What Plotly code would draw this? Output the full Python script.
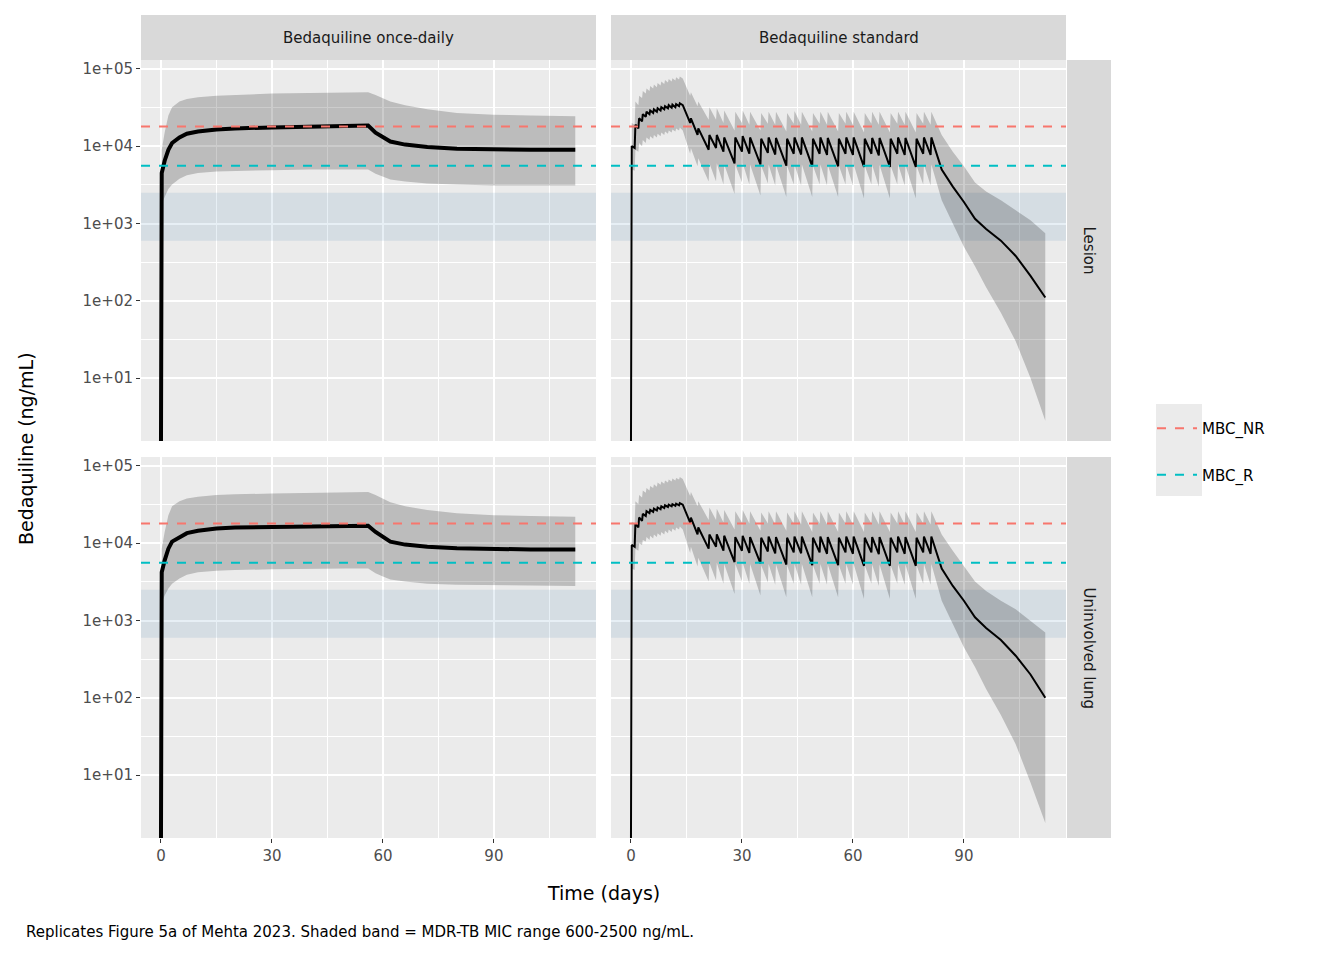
import plotly.graph_objects as go

# --- Data ---
MBC_NR = 18000
MBC_R = 5600
MIC_LOW, MIC_HIGH = 600, 2500

# once-daily regimen
od_t = [0, 0.2, 1, 2, 3, 5, 7, 10, 15, 20, 30, 40, 50, 56, 58, 60, 62, 66, 72, 80, 90, 100, 112]
od_les_med = [1.5, 4500, 6500, 9000, 11000, 13000, 14500, 15500, 16500, 17000, 17500, 18000, 18200, 18500,
              15000, 13000, 11500, 10500, 9800, 9300, 9100, 9000, 9000]
od_les_hi = [1.5, 9000, 15000, 25000, 32000, 38000, 41000, 43000, 45000, 46000, 48000, 49000, 50000, 50000,
             46000, 42000, 38000, 34000, 30000, 27000, 25500, 25000, 24500]
od_les_lo = [1.5, 1800, 2200, 2800, 3200, 3800, 4200, 4500, 4700, 4800, 4900, 5000, 5000, 5000,
             4400, 4000, 3700, 3500, 3300, 3200, 3100, 3100, 3100]
od_lung_med = [1.5, 4200, 6000, 8500, 10500, 12000, 13500, 14500, 15500, 16000, 16300, 16500, 16700, 16800,
               14000, 12000, 10500, 9600, 9000, 8600, 8400, 8300, 8300]
od_lung_hi = [1.5, 8500, 14000, 23000, 30000, 35000, 38000, 40000, 42000, 43000, 44000, 45000, 45500, 46000,
              42000, 38000, 34000, 30000, 27000, 24500, 23000, 22500, 22000]
od_lung_lo = [1.5, 1700, 2100, 2600, 3000, 3500, 3900, 4200, 4400, 4500, 4600, 4700, 4700, 4700,
              4100, 3700, 3400, 3200, 3000, 2900, 2850, 2800, 2800]

# standard regimen (2 weeks daily, then three times weekly)
std_t = [0, 0.2, 1, 1.2, 2, 2.2, 3, 3.2, 4, 4.2, 5, 5.2, 6, 6.2, 7, 7.2, 8, 8.2, 9, 9.2, 10, 10.2,
         11, 11.2, 12, 12.2, 13, 13.2, 14, 16, 16.2, 18, 18.2, 21, 21.2, 23, 23.2, 25, 25.2,
         28, 28.2, 30, 30.2, 32, 32.2, 35, 35.2, 37, 37.2, 39, 39.2, 42, 42.2, 44, 44.2, 46, 46.2,
         49, 49.2, 51, 51.2, 53, 53.2, 56, 56.2, 58, 58.2, 60, 60.2, 63, 63.2, 65, 65.2, 67, 67.2,
         70, 70.2, 72, 72.2, 74, 74.2, 77, 77.2, 79, 79.2, 81, 81.2,
         84, 87, 90, 93, 96, 100, 104, 108, 112]
std_les_med = [1.5, 10000, 9500, 19000, 17000, 23000, 21000, 26000, 24000, 28000, 26000, 29000, 27000, 30000,
               28000, 31000, 29000, 32000, 30000, 33000, 31000, 34000, 31500, 34500, 32000, 35000, 33000, 36000, 34000,
               20000, 23000, 14000, 17000, 9000, 14000, 9500, 14000, 8500, 13000,
               6000, 13000, 8500, 13500, 8000, 13000,
               5800, 12500, 8200, 13000, 7800, 12800,
               5600, 12500, 8000, 13000, 7800, 13000,
               5500, 12500, 8000, 13000, 7700, 12800,
               5500, 12500, 8000, 13000, 7700, 13000,
               5400, 12500, 8000, 12800, 7600, 12800,
               5400, 12500, 8000, 13000, 7700, 12800,
               5400, 12500, 8000, 13000, 7700, 13000,
               5000, 3000, 1900, 1150, 850, 600, 380, 210, 110]
std_les_hi = [1.5, 20000, 19000, 38000, 34000, 45000, 42000, 52000, 48000, 56000, 52000, 60000, 56000, 63000,
              58000, 66000, 61000, 69000, 64000, 72000, 67000, 74000, 69000, 76000, 71000, 78000, 73000, 80000, 75000,
              45000, 50000, 33000, 38000, 22000, 32000, 22000, 31000, 20000, 29000,
              16000, 28000, 20000, 29000, 19000, 28000,
              16000, 27000, 19500, 28000, 19000, 28000,
              15500, 27000, 19500, 28500, 19000, 28000,
              15500, 27000, 19500, 28000, 19000, 28000,
              15500, 27000, 19500, 28000, 19000, 28000,
              15000, 27000, 19500, 28000, 19000, 28000,
              15000, 27000, 19500, 28000, 19000, 28000,
              15000, 27000, 19500, 28000, 19000, 28000,
              14000, 8500, 5500, 3400, 2600, 2000, 1500, 1100, 750]
std_les_lo = [1.5, 5000, 4800, 9000, 8500, 11000, 10000, 12000, 11000, 13000, 12000, 13500, 12500, 14000,
              13000, 14500, 13500, 15000, 14000, 15500, 14500, 16000, 15000, 16500, 15500, 17000, 16000, 17500, 16000,
              8000, 9500, 5500, 7000, 3500, 6000, 3500, 6000, 3200, 5800,
              2400, 5800, 3400, 6000, 3200, 5800,
              2300, 5600, 3300, 5800, 3100, 5700,
              2200, 5600, 3200, 5800, 3100, 5800,
              2200, 5600, 3200, 5800, 3100, 5700,
              2200, 5600, 3200, 5800, 3100, 5800,
              2100, 5600, 3200, 5700, 3000, 5700,
              2100, 5600, 3200, 5800, 3100, 5700,
              2100, 5600, 3200, 5800, 3100, 5800,
              2000, 1000, 500, 280, 150, 70, 30, 10, 2.8]
std_lung_med = [1.5, 9500, 9000, 18000, 16000, 21500, 19500, 24000, 22500, 26000, 24500, 27000, 25500, 28000,
                26500, 29000, 27500, 30000, 28500, 31000, 29500, 31500, 30000, 32000, 30500, 32500, 31000, 33000, 31500,
                18500, 21500, 13000, 16000, 8500, 13000, 9000, 13000, 8000, 12500,
                5700, 12000, 8000, 12500, 7500, 12000,
                5500, 11800, 7800, 12200, 7400, 12000,
                5300, 11800, 7600, 12200, 7400, 12200,
                5200, 11800, 7600, 12200, 7300, 12000,
                5200, 11800, 7600, 12200, 7300, 12200,
                5100, 11800, 7600, 12000, 7200, 12000,
                5100, 11800, 7600, 12200, 7300, 12000,
                5100, 11800, 7600, 12200, 7300, 12200,
                4700, 2800, 1800, 1100, 800, 560, 350, 200, 100]
std_lung_hi = [1.5, 19000, 18000, 35000, 32000, 42000, 39000, 48000, 45000, 52000, 48000, 55000, 52000, 58000,
               54000, 61000, 57000, 63000, 59000, 65000, 61000, 67000, 63000, 69000, 65000, 70000, 67000, 72000, 68000,
               41000, 46000, 30000, 35000, 20000, 29000, 20000, 28000, 18500, 27000,
               15000, 26000, 18500, 27000, 18000, 26000,
               14500, 25000, 18000, 26000, 17500, 26000,
               14500, 25000, 18000, 26000, 17500, 26000,
               14000, 25000, 18000, 26000, 17500, 26000,
               14000, 25000, 18000, 26000, 17500, 26000,
               14000, 25000, 18000, 26000, 17500, 26000,
               14000, 25000, 18000, 26000, 17500, 26000,
               14000, 25000, 18000, 26000, 17500, 26000,
               13000, 8000, 5000, 3200, 2400, 1800, 1400, 1000, 700]
std_lung_lo = [1.5, 4700, 4500, 8500, 8000, 10000, 9500, 11000, 10500, 12000, 11000, 12500, 11500, 13000,
               12000, 13500, 12500, 14000, 13000, 14500, 13500, 15000, 14000, 15500, 14500, 16000, 15000, 16500, 15000,
               7500, 9000, 5000, 6500, 3200, 5600, 3300, 5600, 3000, 5400,
               2200, 5400, 3200, 5600, 3000, 5400,
               2100, 5200, 3100, 5400, 2900, 5300,
               2000, 5200, 3000, 5400, 2900, 5400,
               2000, 5200, 3000, 5400, 2900, 5300,
               2000, 5200, 3000, 5400, 2900, 5400,
               1900, 5200, 3000, 5300, 2800, 5300,
               1900, 5200, 3000, 5400, 2900, 5300,
               1900, 5200, 3000, 5400, 2900, 5400,
               1800, 900, 450, 250, 130, 60, 25, 8, 2.4]

panels = [
    # (x axis, y axis, t, median, lo, hi, line width)
    ("x", "y", od_t, od_les_med, od_les_lo, od_les_hi, 4),
    ("x2", "y2", std_t, std_les_med, std_les_lo, std_les_hi, 2),
    ("x3", "y3", od_t, od_lung_med, od_lung_lo, od_lung_hi, 4),
    ("x4", "y4", std_t, std_lung_med, std_lung_lo, std_lung_hi, 2),
]

W, H = 1344, 960
OFF = 8  # page body margin
def px(v): return (v - OFF) / W
def py(v): return 1 - (v - OFF) / H

fig = go.Figure()
x_range = [-5.4, 117.6]
for i, (xa, ya, t, med, lo, hi, lw) in enumerate(panels):
    # MIC band
    fig.add_trace(go.Scatter(x=[x_range[0], x_range[1], x_range[1], x_range[0]],
                             y=[MIC_LOW, MIC_LOW, MIC_HIGH, MIC_HIGH], fill="toself",
                             fillcolor="rgba(70,130,180,0.13)", line=dict(width=0),
                             mode="lines", showlegend=False, hoverinfo="skip", xaxis=xa, yaxis=ya))
    fig.add_trace(go.Scatter(x=t, y=lo, mode="lines", line=dict(width=0), showlegend=False,
                             hoverinfo="skip", xaxis=xa, yaxis=ya))
    fig.add_trace(go.Scatter(x=t, y=hi, mode="lines", line=dict(width=0), fill="tonexty",
                             fillcolor="rgba(0,0,0,0.2)", showlegend=False, hoverinfo="skip",
                             xaxis=xa, yaxis=ya))
    fig.add_trace(go.Scatter(x=t, y=med, mode="lines", line=dict(color="black", width=lw),
                             showlegend=False, xaxis=xa, yaxis=ya))
    fig.add_trace(go.Scatter(x=x_range, y=[MBC_NR, MBC_NR], mode="lines", name="MBC_NR",
                             line=dict(color="#F8766D", dash="dash", width=2),
                             showlegend=(i == 0), legendgroup="nr", xaxis=xa, yaxis=ya))
    fig.add_trace(go.Scatter(x=x_range, y=[MBC_R, MBC_R], mode="lines", name="MBC_R",
                             line=dict(color="#00BFC4", dash="dash", width=2),
                             showlegend=(i == 0), legendgroup="r", xaxis=xa, yaxis=ya))

tick_font = dict(family="DejaVu Sans", size=15, color="#4D4D4D")
xdom = [[px(141), px(596)], [px(611), px(1066)]]
ydom = [[py(441), py(60)], [py(838), py(457)]]

def xaxis(col, row):
    return dict(domain=xdom[col], range=x_range, showgrid=True, gridcolor="white", gridwidth=1.5,
                tickvals=[0, 30, 60, 90], showticklabels=(row == 1), tickfont=tick_font,
                ticks="outside" if row == 1 else "", ticklen=4, tickcolor="#333333", zeroline=False,
                minor=dict(tickvals=[15, 45, 75, 105], showgrid=True, gridcolor="white", gridwidth=0.7))

def yaxis(col, row):
    return dict(domain=ydom[row], type="log", range=[0.185, 5.116], showgrid=True, gridcolor="white",
                gridwidth=1.5, tickvals=[10, 100, 1000, 10000, 100000],
                ticktext=["1e+01", "1e+02", "1e+03", "1e+04", "1e+05"], showticklabels=(col == 0),
                tickfont=tick_font, ticks="outside" if col == 0 else "", ticklen=4, tickcolor="#333333",
                zeroline=False,
                minor=dict(tickvals=[10 ** 1.5, 10 ** 2.5, 10 ** 3.5, 10 ** 4.5], showgrid=True,
                           gridcolor="white", gridwidth=0.7))

fig.update_layout(
    xaxis=dict(xaxis(0, 0), anchor="y"), yaxis=dict(yaxis(0, 0), anchor="x"),
    xaxis2=dict(xaxis(1, 0), anchor="y2"), yaxis2=dict(yaxis(1, 0), anchor="x2"),
    xaxis3=dict(xaxis(0, 1), anchor="y3"), yaxis3=dict(yaxis(0, 1), anchor="x3"),
    xaxis4=dict(xaxis(1, 1), anchor="y4"), yaxis4=dict(yaxis(1, 1), anchor="x4"),
)

shapes = []
# panel backgrounds
for c in range(2):
    for r in range(2):
        shapes.append(dict(type="rect", xref="paper", yref="paper", x0=xdom[c][0], x1=xdom[c][1],
                           y0=ydom[r][0], y1=ydom[r][1], fillcolor="#EBEBEB", line=dict(width=0),
                           layer="below"))
# strips
for c in range(2):
    shapes.append(dict(type="rect", xref="paper", yref="paper", x0=xdom[c][0], x1=xdom[c][1],
                       y0=py(60), y1=py(15), fillcolor="#D9D9D9", line=dict(width=0)))
for r in range(2):
    shapes.append(dict(type="rect", xref="paper", yref="paper", x0=px(1067), x1=px(1111),
                       y0=ydom[r][0], y1=ydom[r][1], fillcolor="#D9D9D9", line=dict(width=0)))
# legend key backgrounds
for yk in (427, 473):
    shapes.append(dict(type="rect", xref="paper", yref="paper", x0=px(1156), x1=px(1202),
                       y0=py(yk + 23), y1=py(yk - 23), fillcolor="#EBEBEB", line=dict(width=0),
                       layer="below"))

strip_font = dict(family="DejaVu Sans", size=15, color="#1A1A1A")
annotations = [
    dict(text="Bedaquiline once-daily", x=sum(xdom[0]) / 2, y=py(38), font=strip_font),
    dict(text="Bedaquiline standard", x=sum(xdom[1]) / 2, y=py(38), font=strip_font),
    dict(text="Lesion", x=px(1089), y=sum(ydom[0]) / 2, textangle=90, font=strip_font),
    dict(text="Uninvolved lung", x=px(1089), y=sum(ydom[1]) / 2, textangle=90, font=strip_font),
    dict(text="Time (days)", x=px(603), y=py(893), font=dict(family="DejaVu Sans", size=19, color="black")),
    dict(text="Bedaquiline (ng/mL)", x=px(26), y=py(449), textangle=-90,
         font=dict(family="DejaVu Sans", size=19, color="black")),
    dict(text="Replicates Figure 5a of Mehta 2023. Shaded band = MDR-TB MIC range 600-2500 ng/mL.",
         x=px(24), y=py(932), xanchor="left", font=dict(family="DejaVu Sans", size=15, color="black")),
]
for a in annotations:
    a.update(xref="paper", yref="paper", showarrow=False, yanchor="middle")
    a.setdefault("xanchor", "center")

fig.update_layout(
    width=W, height=H, margin=dict(l=0, r=0, t=0, b=0),
    plot_bgcolor="rgba(0,0,0,0)", paper_bgcolor="white",
    shapes=shapes, annotations=annotations,
    legend=dict(x=px(1152), y=py(412), xanchor="left", yanchor="top",
                font=dict(family="DejaVu Sans", size=15, color="black"),
                bgcolor="rgba(0,0,0,0)", tracegroupgap=24, itemwidth=40),
    font=dict(family="DejaVu Sans"),
)

fig.write_html("out.html")
